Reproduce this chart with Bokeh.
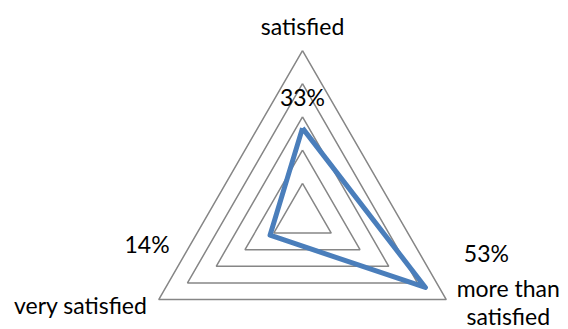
import numpy as np
from bokeh.plotting import figure
from bokeh.models import Range1d, ColumnDataSource
from bokeh.core.properties import value
from bokeh.embed import file_html
from bokeh.resources import INLINE

categories = ["satisfied", "more than\nsatisfied", "very satisfied"]
values = [0.33, 0.53, 0.14]
value_labels = ["33%", "53%", "14%"]
grid_levels = [0.124, 0.248, 0.372, 0.496, 0.62]

W, H = 568, 329
cx_px, cy_px = 302, 216
R_px = 166
k = R_px / grid_levels[-1]  # px per unit

angles = np.deg2rad([90, -30, 210])

p = figure(width=W, height=H, output_backend="svg", toolbar_location=None,
           x_axis_type=None, y_axis_type=None, min_border=0,
           x_range=Range1d(-cx_px / k, (W - cx_px) / k),
           y_range=Range1d(-(H - cy_px) / k, cy_px / k))
p.outline_line_color = None
p.grid.visible = False
p.background_fill_color = "white"
p.border_fill_color = "white"

# grid triangles
gx, gy = [], []
for r in grid_levels:
    xs = list(r * np.cos(angles)) + [r * np.cos(angles[0])]
    ys = list(r * np.sin(angles)) + [r * np.sin(angles[0])]
    gx.append(xs)
    gy.append(ys)
p.multi_line(gx, gy, line_color="#868686", line_width=1.5)

# data polygon
vx = [v * np.cos(a) for v, a in zip(values, angles)]
vy = [v * np.sin(a) for v, a in zip(values, angles)]
p.line(vx + [vx[0]], vy + [vy[0]], line_color="#4a7ebb", line_width=5,
       line_join="round")

font = value("Lato")
fs = "23px"

# value labels (offset from data points, screen px)
vlx_off = [0, 61, -123]
vly_off = [-31, -34, 9]
src_v = ColumnDataSource(dict(x=vx, y=vy, t=value_labels, xo=vlx_off, yo=vly_off))
p.text(x="x", y="y", text="t", x_offset="xo", y_offset="yo", source=src_v,
       text_font=font, text_font_size=fs, text_align="center",
       text_baseline="middle", text_color="black")

# category labels at outer vertices (each line placed separately)
R = grid_levels[-1]
base_xoff = [0, 62, -78]
base_yoff = [-25, -12, 5]
line_step = 28
lx, ly, lt, lxo, lyo = [], [], [], [], []
for a, cat, xo, yo in zip(angles, categories, base_xoff, base_yoff):
    for j, part in enumerate(cat.split("\n")):
        lx.append(R * np.cos(a))
        ly.append(R * np.sin(a))
        lt.append(part)
        lxo.append(xo)
        lyo.append(yo + j * line_step)
src_c = ColumnDataSource(dict(x=lx, y=ly, t=lt, xo=lxo, yo=lyo))
p.text(x="x", y="y", text="t", x_offset="xo", y_offset="yo", source=src_c,
       text_font=font, text_font_size=fs, text_align="center",
       text_baseline="middle", text_color="black")

open("out.html", "w").write(file_html(p, INLINE))
